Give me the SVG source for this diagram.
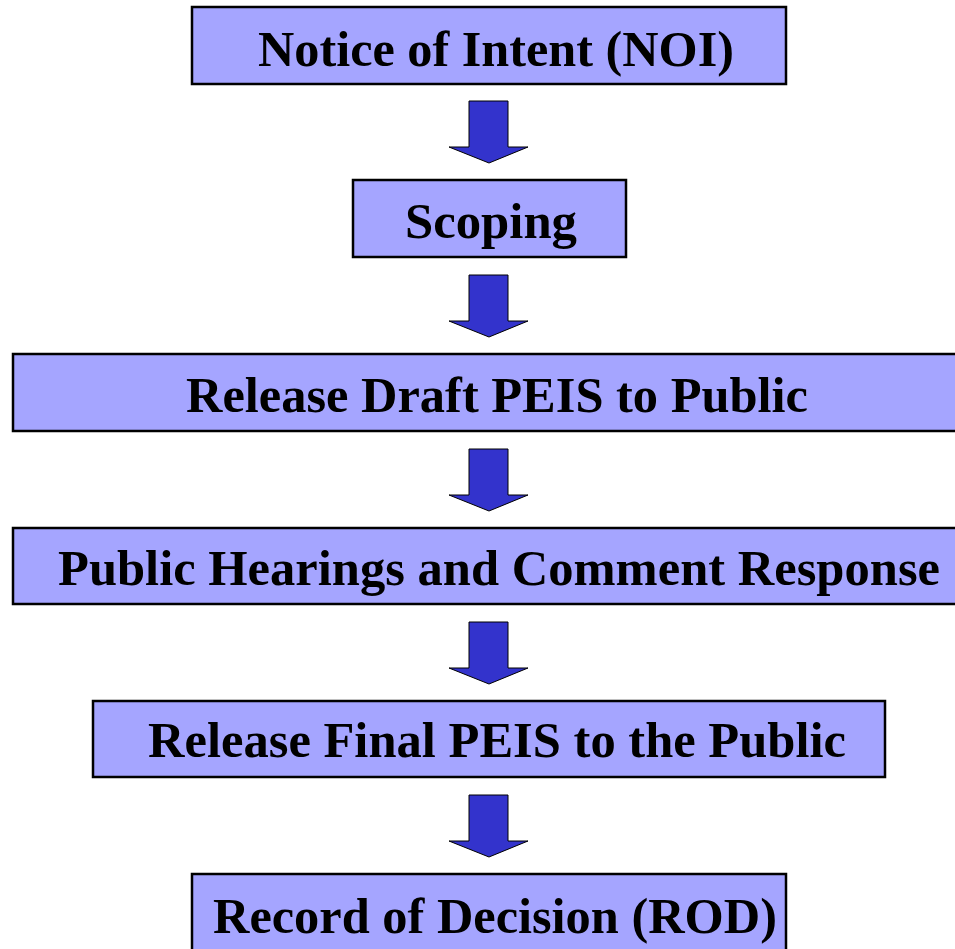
<svg xmlns="http://www.w3.org/2000/svg" width="955" height="949" viewBox="0 0 955 949">
<style>
.box{fill:#a5a5ff;stroke:#000;stroke-width:2.5}
.lbl{font-family:"Liberation Serif","Times New Roman",serif;font-weight:bold;font-size:50px;fill:#000}
.arr{fill:#3333cc;stroke:#000;stroke-width:1}
</style>
<defs>
<path id="dn" d="M469,0 H508 V46 H528 L489,62 L449,46 H469 Z"/>
</defs>
<rect width="955" height="949" fill="#fff"/>
<g id="connectors">
<use href="#dn" class="arr" y="101"/>
<use href="#dn" class="arr" y="275"/>
<use href="#dn" class="arr" y="449"/>
<use href="#dn" class="arr" y="622"/>
<use href="#dn" class="arr" y="795"/>
</g>
<g id="noi">
<rect class="box" x="192" y="7" width="594" height="77"/>
<text class="lbl" x="258" y="66" textLength="476" lengthAdjust="spacingAndGlyphs">Notice of Intent (NOI)</text>
</g>
<g id="scoping">
<rect class="box" x="353" y="180" width="273" height="77"/>
<text class="lbl" x="405" y="238" textLength="172" lengthAdjust="spacingAndGlyphs">Scoping</text>
</g>
<g id="draft">
<rect class="box" x="13" y="354" width="960" height="77"/>
<text class="lbl" x="186" y="412" textLength="622" lengthAdjust="spacingAndGlyphs">Release Draft PEIS to Public</text>
</g>
<g id="hearings">
<rect class="box" x="13" y="528" width="960" height="76"/>
<text class="lbl" x="58" y="585" textLength="882" lengthAdjust="spacingAndGlyphs">Public Hearings and Comment Response</text>
</g>
<g id="final">
<rect class="box" x="93" y="701" width="792" height="76"/>
<text class="lbl" x="148" y="757" textLength="698" lengthAdjust="spacingAndGlyphs">Release Final PEIS to the Public</text>
</g>
<g id="rod">
<rect class="box" x="192" y="874" width="594" height="80"/>
<text class="lbl" x="213" y="933" textLength="564" lengthAdjust="spacingAndGlyphs">Record of Decision (ROD)</text>
</g>
</svg>
